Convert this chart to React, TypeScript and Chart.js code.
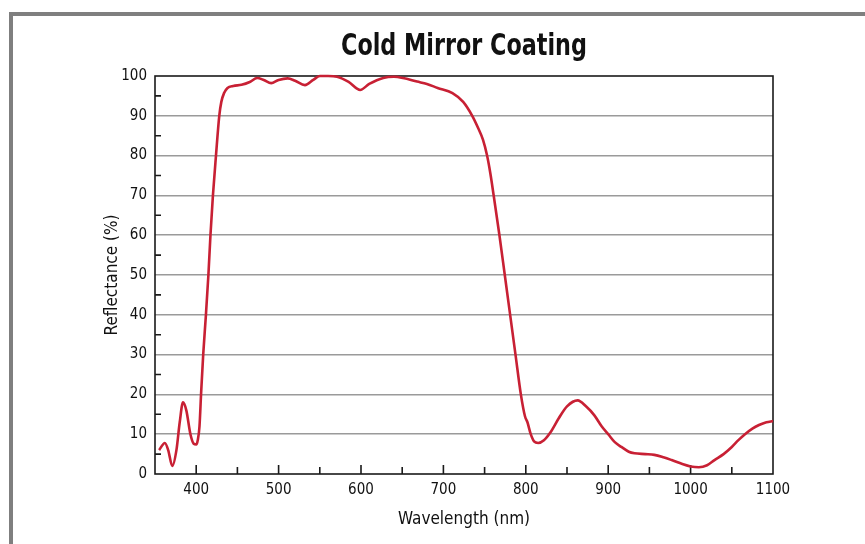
import React, { useEffect, useRef } from 'react';
import { Chart, registerables } from 'chart.js';

Chart.register(...registerables);

const TITLE = 'Cold Mirror Coating';
const X_TITLE = 'Wavelength (nm)';
const Y_TITLE = 'Reflectance (%)';

const wavelengths = [
  355, 362, 366, 371, 376, 380, 384, 388, 393, 397, 400, 402, 404, 406, 408.5, 411.8, 414.8, 417.3, 420.3, 424,
  428, 430.5, 434, 438, 445, 455, 465, 474, 482, 491, 500, 511, 520, 532, 542, 550, 560, 571, 585, 599,
  610, 627, 640, 651, 668, 680, 693, 711, 724, 735, 742, 748, 753, 757, 761, 768, 774.5, 781, 787.5, 794,
  799, 802, 806, 810, 815, 822, 830, 840, 850, 863, 873, 883, 892, 900, 908, 916, 925, 932, 945, 956,
  967, 977, 990, 1000, 1010, 1020, 1029, 1040, 1050, 1058, 1066, 1075, 1083, 1092, 1100,
];

const reflectance = [
  6.0, 7.8, 6.0, 2.0, 6.0, 13.0, 18.0, 16.0, 10.0, 7.6, 7.4, 8.6, 12.0, 20.5, 30.0, 40.0, 50.0, 60.0, 70.0, 80.0,
  90.0, 93.5, 95.8, 97.0, 97.5, 97.8, 98.5, 99.5, 99.0, 98.2, 99.0, 99.4, 98.8, 97.7, 99.0, 100.0, 100.0, 99.8, 98.5, 96.5,
  98.0, 99.5, 99.8, 99.5, 98.6, 98.0, 97.0, 95.7, 93.5, 90.0, 87.0, 84.0, 80.0, 75.5, 70.0, 60.0, 50.0, 40.0, 30.0, 20.0,
  14.5, 13.0, 10.0, 8.2, 7.8, 8.5, 10.5, 14.0, 17.0, 18.5, 17.0, 14.8, 12.0, 10.0, 8.0, 6.8, 5.6, 5.2, 5.0, 4.8,
  4.2, 3.5, 2.5, 1.9, 1.7, 2.2, 3.5, 5.0, 6.8, 8.5, 10.0, 11.4, 12.3, 13.0, 13.3,
];

const X_MIN = 350;
const X_MAX = 1100;
const Y_MIN = 0;
const Y_MAX = 100;
const xLabelValues = [400, 500, 600, 700, 800, 900, 1000, 1100];
const xMajorTicks = [400, 500, 600, 700, 800, 900, 1000];
const xMinorTicks = [450, 550, 650, 750, 850, 950, 1050];
const yMinorTicks = [5, 15, 25, 35, 45, 55, 65, 75, 85, 95];

const FONT = "'DejaVu Sans Condensed', 'Liberation Sans Narrow', sans-serif";

const framePlugin = {
  id: 'frame',
  beforeDraw(chart: any) {
    const { ctx } = chart;
    ctx.save();
    ctx.fillStyle = '#ffffff';
    ctx.fillRect(0, 0, chart.width, chart.height);
    ctx.fillStyle = '#7f7f7f';
    ctx.fillRect(9, 12, chart.width - 9, 4);
    ctx.fillRect(9, 12, 4, chart.height - 12);
    ctx.restore();
  },
};

const boxPlugin = {
  id: 'boxTicks',
  beforeDatasetsDraw(chart: any) {
    const { ctx, chartArea } = chart;
    const { left, right, top, bottom } = chartArea;
    const xs = chart.scales.x;
    const ys = chart.scales.y;
    ctx.save();
    ctx.strokeStyle = '#1a1a1a';
    ctx.lineWidth = 1.6;
    ctx.strokeRect(left, top, right - left, bottom - top);
    ctx.beginPath();
    xMajorTicks.forEach((v) => {
      const px = xs.getPixelForValue(v);
      ctx.moveTo(px, bottom);
      ctx.lineTo(px, bottom - 9);
    });
    xMinorTicks.forEach((v) => {
      const px = xs.getPixelForValue(v);
      ctx.moveTo(px, bottom);
      ctx.lineTo(px, bottom - 7);
    });
    yMinorTicks.forEach((v) => {
      const py = ys.getPixelForValue(v);
      ctx.moveTo(left, py);
      ctx.lineTo(left + 6, py);
    });
    ctx.stroke();
    ctx.restore();
  },
};

const titlePlugin = {
  id: 'centeredTitle',
  afterDraw(chart: any) {
    const { ctx, chartArea } = chart;
    ctx.save();
    ctx.fillStyle = '#111111';
    ctx.font = `bold 31px ${FONT}`;
    ctx.textAlign = 'center';
    ctx.textBaseline = 'middle';
    ctx.translate((chartArea.left + chartArea.right) / 2, 47);
    ctx.scale(0.8, 1);
    ctx.fillText(TITLE, 0, 0);
    ctx.restore();
  },
};

export default function App() {
  const canvasRef = useRef<HTMLCanvasElement | null>(null);

  useEffect(() => {
    if (!canvasRef.current) return;
    const points = wavelengths.map((w, i) => ({ x: w, y: reflectance[i] }));
    const chart = new Chart(canvasRef.current, {
      type: 'line',
      data: {
        datasets: [
          {
            data: points,
            borderColor: 'rgb(200, 32, 52)',
            borderWidth: 2.6,
            pointRadius: 0,
            fill: false,
            cubicInterpolationMode: 'monotone',
            clip: 4,
          } as any,
        ],
      },
      options: {
        responsive: false,
        animation: false,
        events: [],
        layout: { padding: { top: 76, right: 92, left: 0, bottom: 0 } },
        plugins: {
          legend: { display: false },
          tooltip: { enabled: false },
          title: { display: false },
        },
        scales: {
          x: {
            type: 'linear',
            min: X_MIN,
            max: X_MAX,
            afterFit: (scale: any) => {
              scale.height = 70;
            },
            afterBuildTicks: (scale: any) => {
              scale.ticks = xLabelValues.map((v) => ({ value: v }));
            },
            grid: { display: false, drawTicks: false },
            border: { display: false },
            ticks: {
              autoSkip: false,
              maxRotation: 0,
              padding: 7,
              color: '#111111',
              font: { family: FONT, size: 15 },
              callback: (v: any) => String(v),
            },
            title: {
              display: true,
              text: X_TITLE,
              color: '#111111',
              font: { family: FONT, size: 17 },
              padding: { top: 0, bottom: 14 },
            },
          },
          y: {
            type: 'linear',
            min: Y_MIN,
            max: Y_MAX,
            afterFit: (scale: any) => {
              scale.width = 155;
            },
            grid: {
              drawTicks: false,
              lineWidth: 1.6,
              color: (ctx: any) =>
                ctx.tick && (ctx.tick.value === Y_MIN || ctx.tick.value === Y_MAX) ? 'rgba(0,0,0,0)' : '#9a9a9a',
            },
            border: { display: false },
            ticks: {
              stepSize: 10,
              padding: 8,
              color: '#111111',
              font: { family: FONT, size: 15 },
              callback: (v: any) => String(v),
            },
            title: {
              display: true,
              text: Y_TITLE,
              color: '#111111',
              font: { family: FONT, size: 17 },
              padding: { top: 102, bottom: 0 },
            },
          },
        },
      },
      plugins: [framePlugin, boxPlugin, titlePlugin],
    });
    return () => chart.destroy();
  }, []);

  return (
    <div style={{ position: 'absolute', left: 0, top: 0, width: 865, height: 544 }}>
      <canvas ref={canvasRef} width={865} height={544} style={{ display: 'block' }} />
    </div>
  );
}
